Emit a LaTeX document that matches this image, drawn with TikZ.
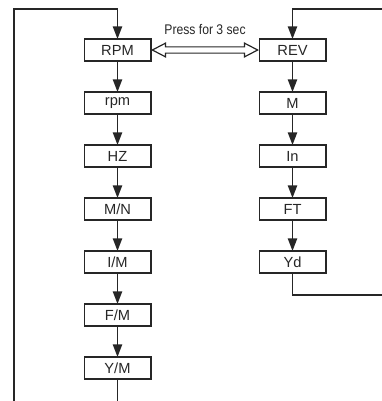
\documentclass[tikz,border=0pt]{standalone}
\usepackage{fontspec}
\setmainfont{Liberation Sans}
\newfontfamily\narrowfont{Liberation Sans}[FakeStretch=0.87]
\usepackage{tikz}
\usetikzlibrary{arrows.meta, shapes.arrows, positioning}

\begin{document}
\begin{tikzpicture}[
  x=0.75pt, y=-0.75pt,
  node distance=23.25pt,
  unit/.style={rectangle,draw=black!85,line width=1pt,minimum width=50pt,
               minimum height=16.5pt,inner sep=0pt,outer sep=0pt,text=black!85,
               font=\fontsize{11}{12}\selectfont},
  msg/.style={-{Triangle[length=9.5pt,width=7pt]},line width=1pt,black!85},
  lp/.style={line width=1pt,black!85},
  swap/.style={double arrow,draw=black!85,line width=0.9pt,inner xsep=0pt,inner ysep=1.9pt,
               minimum height=79pt,minimum width=9.5pt,double arrow head extend=2.8pt,
               double arrow tip angle=55}
]
  \useasboundingbox (0,0) rectangle (382,401);

  % ── speed column ──
  \node[unit](RPM) at (117.5,50) {RPM};
  \node[unit,below=of RPM](rpm) {rpm};
  \node[unit,below=of rpm](HZ)  {HZ};
  \node[unit,below=of HZ](MN)   {M/N};
  \node[unit,below=of MN](IM)   {I/M};
  \node[unit,below=of IM](FM)   {F/M};
  \node[unit,below=of FM](YM)   {Y/M};

  % ── length column ──
  \node[unit](REV) at (292.5,50) {REV};
  \node[unit,below=of REV](M)  {M};
  \node[unit,below=of M](In)   {In};
  \node[unit,below=of In](FT)  {FT};
  \node[unit,below=of FT](Yd)  {Yd};

  \foreach \a/\b in {RPM/rpm,rpm/HZ,HZ/MN,MN/IM,IM/FM,FM/YM,REV/M,M/In,In/FT,FT/Yd}
    {\draw[msg](\a)--(\b);}

  % switch between the two
  \node[swap](sw) at (205,50) {};
  \node[font=\narrowfont\fontsize{10.5}{11}\selectfont,text=black!85,above=5pt of sw](lbl) {Press for 3 sec};

  % loops back
  \coordinate (ltop) at (14,9);
  \coordinate (lbot) at (14,401);
  \coordinate (rtop) at (382,9);
  \coordinate (rbot) at (382,295);
  \draw[msg](lbot)--(ltop)-|(RPM.north);
  \draw[lp](YM.south)--(YM.south|-lbot);
  \draw[msg](rtop)-|(REV.north);
  \draw[lp](Yd.south)|-(rbot);
\end{tikzpicture}
\end{document}
